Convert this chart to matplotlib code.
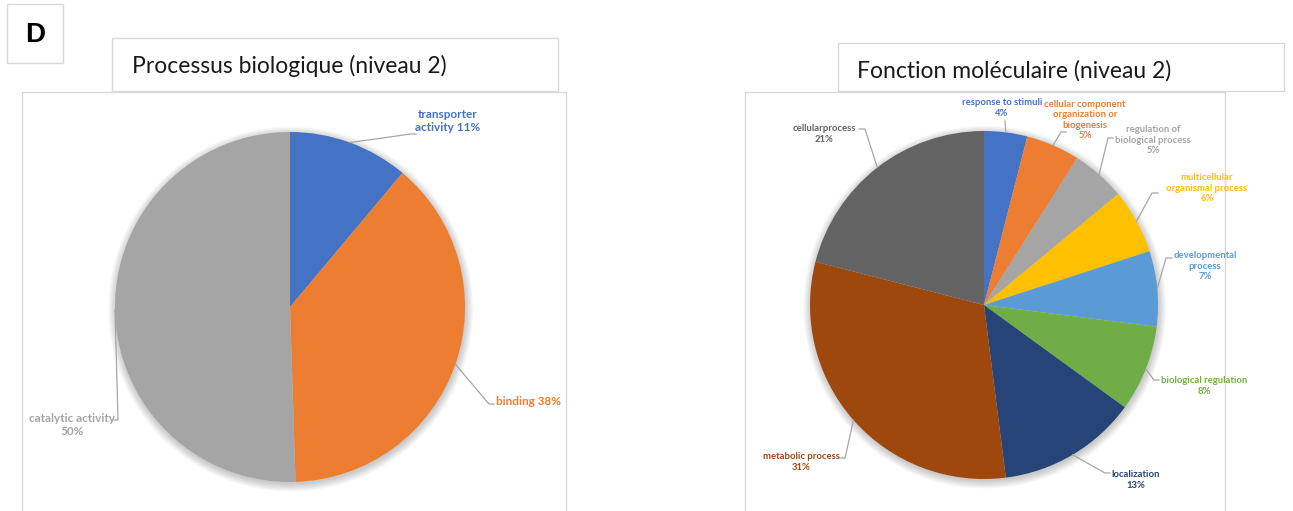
import matplotlib
matplotlib.use("Agg")
import matplotlib.pyplot as plt
from matplotlib.patches import Rectangle, Circle
import numpy as np

W, H = 1293, 511

# data
bp_labels = ["transporter\nactivity 11%", "binding 38%", "catalytic activity\n50%"]
bp_values = [11, 38, 50]
bp_colors = ["#4472C4", "#ED7D31", "#A5A5A5"]

mf_labels = ["response to stimuli\n4%",
             "cellular component\norganization or\nbiogenesis\n5%",
             "regulation of\nbiological process\n5%",
             "multicellular\norganismal process\n6%",
             "developmental\nprocess\n7%",
             "biological regulation\n8%",
             "localization\n13%",
             "metabolic process\n31%",
             "cellularprocess\n21%"]
mf_values = [4, 5, 5, 6, 7, 8, 13, 31, 21]
mf_colors = ["#4472C4", "#ED7D31", "#A5A5A5", "#FFC000", "#5B9BD5",
             "#70AD47", "#264478", "#9E480E", "#636363"]

# layout (pixels): text centre, leader elbow, horizontal tick
bp_text_pos = [(448, 121), (529, 401), (72, 425)]
bp_elbow = [(411, 134), (489, 404), (118, 420)]
bp_tick = [5, 5, -4]

mf_text_pos = [(1002, 108), (1085, 120), (1153, 140), (1207, 188), (1205, 266),
               (1204, 386), (1136, 480), (801, 462), (824, 134)]
mf_elbow = [(1005, 121), (1061, 132), (1108, 138), (1152, 193), (1166, 258),
            (1154, 380), (1105, 473), (845, 458), (865, 129)]
mf_tick = [0, 5, 5, 6, 6, 5, 5, -5, -6]

FONT = ["Lato", "DejaVu Sans"]
BORDER = "#D9D9D9"

fig = plt.figure(figsize=(W / 100, H / 100), dpi=100)
bg = fig.add_axes([0, 0, 1, 1])
bg.set_xlim(0, W)
bg.set_ylim(H, 0)
bg.axis("off")

# panel letter
bg.add_patch(Rectangle((7, 4), 56, 59, fill=False, ec=BORDER, lw=1))
bg.text(35, 35, "D", ha="center", va="center", fontsize=20, fontweight="bold",
        family=["Liberation Sans", "DejaVu Sans"])

# title boxes and chart frames
bg.add_patch(Rectangle((112, 38), 446, 53, fill=False, ec=BORDER, lw=1))
bg.text(132, 66, "Processus biologique (niveau 2)", ha="left", va="center",
        fontsize=16.5, family=FONT, color="#1a1a1a")
bg.add_patch(Rectangle((838, 43), 446, 48, fill=False, ec=BORDER, lw=1))
bg.text(857, 71, "Fonction moléculaire (niveau 2)", ha="left", va="center",
        fontsize=16.5, family=FONT, color="#1a1a1a")
bg.add_patch(Rectangle((22, 92), 544, 430, fill=False, ec=BORDER, lw=1))
bg.add_patch(Rectangle((745, 92), 480, 430, fill=False, ec=BORDER, lw=1))


def draw_pie(frame, center, radius, values, colors, labels, text_pos, elbows,
             ticks, fsize):
    x0, y0, x1, y1 = frame
    cx, cy = center
    ax = fig.add_axes([x0 / W, 1 - y1 / H, (x1 - x0) / W, (y1 - y0) / H])
    # soft shadow
    for i in range(7):
        ax.add_patch(Circle((0.004, -0.012), 1 + 0.007 * i, color="k",
                            alpha=0.03, lw=0, zorder=0))
    wedges, _ = ax.pie(values, colors=colors, startangle=90, counterclock=False,
                       wedgeprops=dict(linewidth=0))
    ax.set_aspect("auto")
    ax.set_xlim((x0 - cx) / radius, (x1 - cx) / radius)
    ax.set_ylim((cy - y1) / radius, (cy - y0) / radius)
    ax.axis("off")

    def to_data(p):
        return (p[0] - cx) / radius, (cy - p[1]) / radius

    for w, lab, tp, el, tk in zip(wedges, labels, text_pos, elbows, ticks):
        mid = np.deg2rad((w.theta1 + w.theta2) / 2)
        sx, sy = np.cos(mid), np.sin(mid)
        ex, ey = to_data(el)
        px = [sx, ex, ex + tk / radius]
        py = [sy, ey, ey]
        ax.plot(px, py, color="#A6A6A6", lw=0.9, clip_on=False, zorder=3)
        tx, ty = to_data(tp)
        ax.text(tx, ty, lab, ha="center", va="center", fontsize=fsize,
                fontweight="bold", color=w.get_facecolor(), family=FONT,
                linespacing=1.15, clip_on=False, zorder=4)
    return ax


draw_pie((22, 92, 566, 511), (290, 307), 175, bp_values, bp_colors, bp_labels,
         bp_text_pos, bp_elbow, bp_tick, 8.5)
draw_pie((745, 92, 1225, 511), (984, 305), 174, mf_values, mf_colors, mf_labels,
         mf_text_pos, mf_elbow, mf_tick, 6.8)

fig.savefig("out.png", dpi=100)
